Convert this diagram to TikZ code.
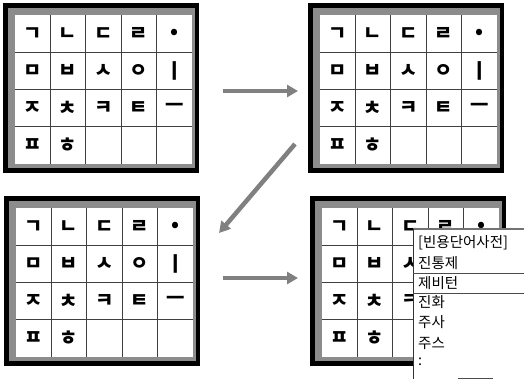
\documentclass[tikz,border=0pt]{standalone}
\usepackage{fontspec}
\newfontfamily\kr{Noto Sans CJK KR}
\usetikzlibrary{arrows.meta}
\tikzset{
  jamo/.style={font=\kr\bfseries\fontsize{20}{20}\selectfont, inner sep=0pt, anchor=center},
  menuitem/.style={font=\kr\fontsize{14.5}{15}\selectfont, anchor=west, inner sep=0pt},
  gridline/.style={draw=black!75, line width=0.8pt},
  bigarrow/.style={draw=black!50, line width=4.5pt, -{Triangle[width=12pt,length=11pt]}},
  menuline/.style={draw=black!70, line width=1pt},
}
\newcommand\jpanel[3]{%
  \fill[black] ({#1-12},{#2-12}) rectangle ({#1+184},{#2+158});
  \fill[black!45] ({#1-7},{#2-7}) rectangle ({#1+180},{#2+153});
  \fill[white] (#1,#2) rectangle ({#1+177},{#2+149});
  \foreach \i in {1,...,4} \draw[gridline] ({#1+\i*35.4},#2) -- ({#1+\i*35.4},{#2+149});
  \foreach \j in {1,2,3} \draw[gridline] (#1,{#2+\j*37.25}) -- ({#1+177},{#2+\j*37.25});
  \foreach \t [count=\k from 0] in {ㄱ,ㄴ,ㄷ,ㄹ,•,ㅁ,ㅂ,ㅅ,ㅇ,ㅣ,ㅈ,ㅊ,ㅋ,ㅌ,ㅡ,ㅍ,ㅎ} {
    \pgfmathtruncatemacro\cc{mod(\k,5)}
    \pgfmathtruncatemacro\rr{div(\k,5)}
    \node[jamo] (#3c\k) at ({#1+(\cc+0.5)*35.4},{#2+(\rr+0.5)*37.25}) {\t};
  }
}
\begin{document}
\begin{tikzpicture}[x=1pt,y=-1pt]
\useasboundingbox (0,0) rectangle (524,379);
\fill[white] (0,0) rectangle (524,379);
\jpanel{15}{15}{pa}
\jpanel{320}{15}{pb}
\jpanel{16}{208}{pc}
\jpanel{322}{208}{pd}
% arrows
\coordinate (a1s) at (223,91);  \coordinate (a1e) at (298,91);
\coordinate (a2s) at (295,144); \coordinate (a2e) at (219,233);
\coordinate (a3s) at (223,278); \coordinate (a3e) at (298,278);
\draw[bigarrow] (a1s) -- (a1e);
\draw[bigarrow] (a2s) -- (a2e);
\draw[bigarrow] (a3s) -- (a3e);
% popup menu
\fill[white] (413,229) rectangle (524,379);
\draw[draw=black!55, line width=1.8pt] (413,229) -- (524,229);
\draw[draw=black!80, line width=1pt] (413,229) -- (413,379);
\draw[menuline] (413,273) -- (524,273);
\draw[menuline] (413,293) -- (524,293);
\node[menuitem] (m1) at (418,243) {[빈용단어사전]};
\node[menuitem] (m2) at (418,263) {진통제};
\node[menuitem] (m3) at (418,283) {제비턴};
\node[menuitem] (m4) at (418,302) {진화};
\node[menuitem] (m5) at (418,322) {주사};
\node[menuitem] (m6) at (418,343) {주스};
\node[menuitem] (m7) at (418,362) {:};
\draw[menuline] (458,378) -- (493,378);
\end{tikzpicture}
\end{document}
